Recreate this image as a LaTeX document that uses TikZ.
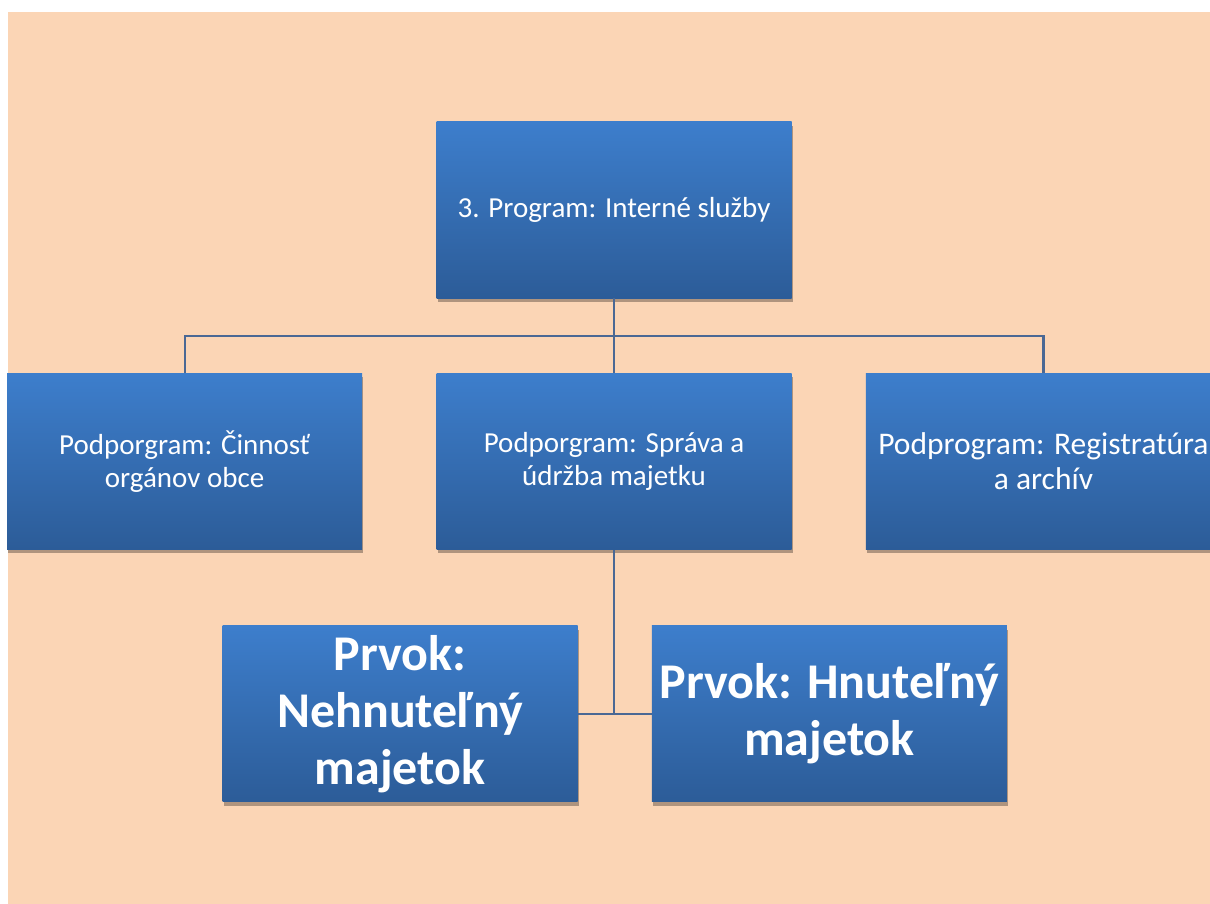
\documentclass[tikz,border=0pt]{standalone}
\usepackage{fontspec}
\setmainfont{Carlito}
\usepackage{tikz}
\usetikzlibrary{positioning,calc,shadows}

\definecolor{peach}{RGB}{251,213,181}
\definecolor{boxtop}{RGB}{61,126,204}
\definecolor{boxbot}{RGB}{44,92,152}
\definecolor{linkcol}{RGB}{74,104,148}

\begin{document}
\begin{tikzpicture}[x=1pt, y=-1pt,
    unit/.style={rectangle, top color=boxtop, bottom color=boxbot, text=white,
        minimum width=355pt, minimum height=176pt, align=center, inner sep=0pt,
        drop shadow={shadow xshift=1pt, shadow yshift=-4pt, opacity=0.3, fill=black}},
    sub/.style={unit, font=\fontsize{29}{33}\selectfont},
    elem/.style={unit, font=\fontsize{50}{57}\selectfont\bfseries},
    link/.style={draw=linkcol, line width=2.2pt}]

    % Background
    \useasboundingbox (0,0) rectangle (1210,904);
    \fill[peach] (8,12) rectangle (1210,904);

    % Program
    \node[sub] (prog) at (614,210) {3. Program: Interné služby};

    % Subprograms
    \node[sub, below=75pt of prog] (sub2) {Podporgram: Správa a\\údržba majetku};
    \node[sub, left=74pt of sub2] (sub1) {Podporgram: Činnosť\\orgánov obce};
    \node[sub, right=74pt of sub2, font=\fontsize{31.5}{35}\selectfont] (sub3) {Podprogram: Registratúra\\a archív};

    % Elements
    \node[elem, below=76pt of sub2, xshift=-214pt] (el1) {Prvok:\\Nehnuteľný\\majetok};
    \node[elem, right=74pt of el1] (el2) {Prvok: Hnuteľný\\majetok};

    % Connections
    \coordinate (bus) at ($(prog.south)!0.5!(sub2.north)$);
    \draw[link] (prog) -- (sub2);
    \draw[link] (sub1.north) |- (bus) -| (sub3.north);
    \draw[link] (sub2) -- (sub2 |- el1.east);
    \draw[link] (el1) -- (el2);

\end{tikzpicture}
\end{document}
